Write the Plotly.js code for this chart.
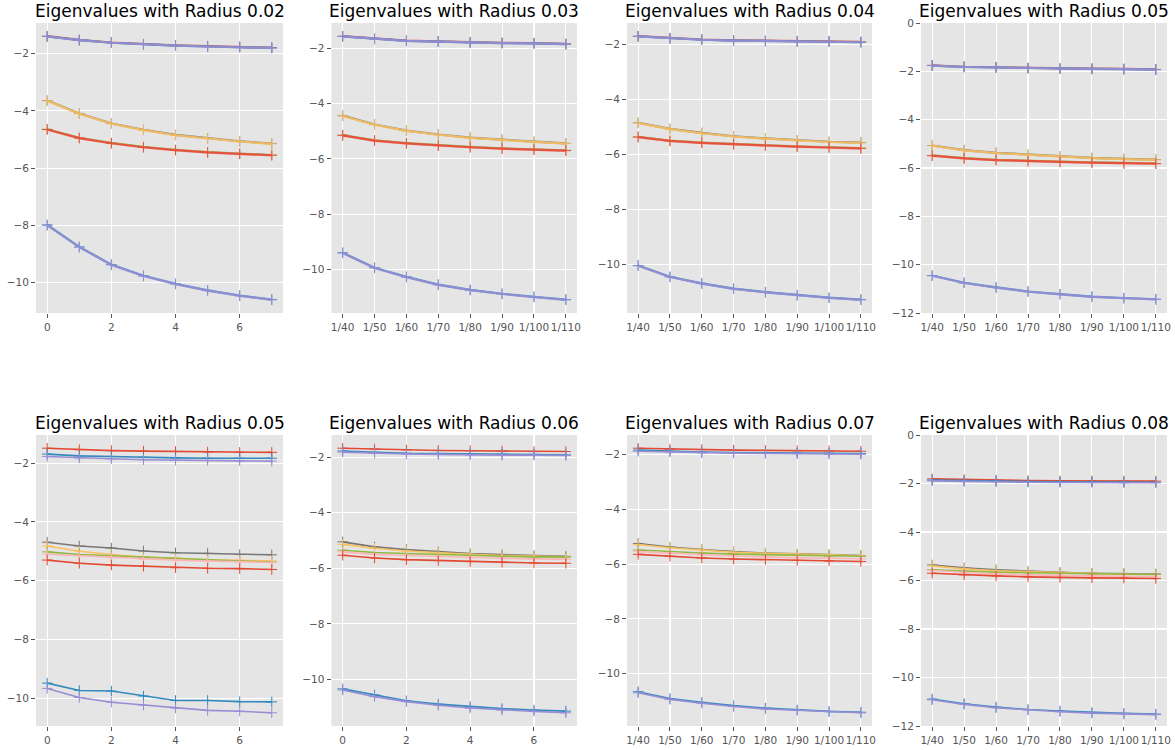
<!DOCTYPE html>
<html>
<head>
<meta charset="utf-8">
<script src="https://cdn.plot.ly/plotly-3.0.1.min.js"></script>
<style>html,body{margin:0;padding:0;background:#fff;}#chart{width:1175px;height:750px;}</style>
</head>
<body>
<div id="chart"></div>
<script>
// ---------- DATA ----------
const xSteps = [0, 1, 2, 3, 4, 5, 6, 7];
const numTickVals = [0, 2, 4, 6];
const numTickText = ["0", "2", "4", "6"];
const fracTickText = ["1/40", "1/50", "1/60", "1/70", "1/80", "1/90", "1/100", "1/110"];
const titles = [
  "Eigenvalues with Radius 0.02", "Eigenvalues with Radius 0.03",
  "Eigenvalues with Radius 0.04", "Eigenvalues with Radius 0.05",
  "Eigenvalues with Radius 0.05", "Eigenvalues with Radius 0.06",
  "Eigenvalues with Radius 0.07", "Eigenvalues with Radius 0.08"
];
const colors = ["#E24A33", "#348ABD", "#988ED5", "#777777", "#FBC15E", "#8EBA42", "#FFB5B8"];

// ten eigenvalue series per panel
const eigR02 = [
  [-1.39,-1.52,-1.61,-1.67,-1.71,-1.74,-1.76,-1.79],
  [-1.40,-1.53,-1.62,-1.68,-1.72,-1.75,-1.77,-1.80],
  [-1.40,-1.53,-1.62,-1.68,-1.72,-1.75,-1.77,-1.80],
  [-3.64,-4.09,-4.44,-4.66,-4.84,-4.96,-5.06,-5.14],
  [-3.65,-4.10,-4.45,-4.67,-4.85,-4.97,-5.07,-5.15],
  [-4.64,-4.94,-5.12,-5.26,-5.36,-5.44,-5.49,-5.54],
  [-4.66,-4.96,-5.14,-5.28,-5.38,-5.46,-5.51,-5.56],
  [-4.65,-4.95,-5.13,-5.27,-5.37,-5.45,-5.50,-5.55],
  [-7.98,-8.75,-9.37,-9.76,-10.04,-10.27,-10.45,-10.59],
  [-8.00,-8.76,-9.38,-9.77,-10.05,-10.28,-10.46,-10.60]
];
const eigR03 = [
  [-1.57,-1.66,-1.73,-1.76,-1.79,-1.81,-1.82,-1.85],
  [-1.58,-1.67,-1.74,-1.77,-1.80,-1.82,-1.83,-1.86],
  [-1.58,-1.67,-1.74,-1.77,-1.80,-1.82,-1.83,-1.86],
  [-4.44,-4.76,-4.98,-5.12,-5.23,-5.31,-5.38,-5.44],
  [-4.45,-4.77,-4.99,-5.13,-5.24,-5.32,-5.39,-5.45],
  [-5.14,-5.33,-5.43,-5.51,-5.57,-5.62,-5.66,-5.69],
  [-5.16,-5.35,-5.45,-5.53,-5.59,-5.64,-5.68,-5.71],
  [-5.15,-5.34,-5.44,-5.52,-5.58,-5.63,-5.67,-5.70],
  [-9.39,-9.93,-10.26,-10.54,-10.73,-10.87,-10.98,-11.08],
  [-9.40,-9.94,-10.27,-10.55,-10.74,-10.88,-10.99,-11.09]
];
const eigR04 = [
  [-1.70,-1.77,-1.82,-1.85,-1.87,-1.88,-1.89,-1.91],
  [-1.71,-1.78,-1.83,-1.86,-1.88,-1.89,-1.90,-1.92],
  [-1.71,-1.78,-1.83,-1.86,-1.88,-1.89,-1.90,-1.92],
  [-4.85,-5.07,-5.22,-5.34,-5.42,-5.49,-5.54,-5.57],
  [-4.86,-5.08,-5.23,-5.35,-5.43,-5.50,-5.55,-5.58],
  [-5.36,-5.50,-5.57,-5.62,-5.67,-5.71,-5.74,-5.77],
  [-5.38,-5.52,-5.59,-5.64,-5.69,-5.73,-5.76,-5.79],
  [-5.37,-5.51,-5.58,-5.63,-5.68,-5.72,-5.75,-5.78],
  [-10.04,-10.45,-10.69,-10.88,-11.01,-11.12,-11.21,-11.28],
  [-10.05,-10.46,-10.70,-10.89,-11.02,-11.13,-11.22,-11.29]
];
const eigR05a = [
  [-1.75,-1.81,-1.83,-1.86,-1.88,-1.89,-1.90,-1.92],
  [-1.76,-1.82,-1.84,-1.87,-1.89,-1.90,-1.91,-1.93],
  [-1.76,-1.82,-1.84,-1.87,-1.89,-1.90,-1.91,-1.93],
  [-5.07,-5.26,-5.37,-5.45,-5.52,-5.58,-5.62,-5.65],
  [-5.08,-5.27,-5.38,-5.46,-5.53,-5.59,-5.63,-5.66],
  [-5.48,-5.59,-5.66,-5.71,-5.74,-5.77,-5.80,-5.81],
  [-5.50,-5.61,-5.68,-5.73,-5.76,-5.79,-5.82,-5.83],
  [-5.49,-5.60,-5.67,-5.72,-5.75,-5.78,-5.81,-5.82],
  [-10.45,-10.75,-10.94,-11.11,-11.22,-11.32,-11.38,-11.43],
  [-10.46,-10.76,-10.95,-11.12,-11.23,-11.33,-11.39,-11.44]
];
const eigR05b = [
  [-1.49,-1.54,-1.57,-1.59,-1.60,-1.62,-1.63,-1.63],
  [-1.69,-1.75,-1.77,-1.80,-1.82,-1.83,-1.83,-1.83],
  [-1.77,-1.82,-1.85,-1.88,-1.90,-1.91,-1.92,-1.93],
  [-4.69,-4.82,-4.89,-4.99,-5.05,-5.07,-5.11,-5.12],
  [-4.82,-5.00,-5.11,-5.20,-5.24,-5.29,-5.31,-5.33],
  [-5.02,-5.11,-5.15,-5.20,-5.24,-5.30,-5.33,-5.37],
  [-5.10,-5.15,-5.22,-5.27,-5.30,-5.33,-5.36,-5.38],
  [-5.30,-5.41,-5.47,-5.51,-5.56,-5.58,-5.59,-5.62],
  [-9.49,-9.74,-9.76,-9.93,-10.08,-10.08,-10.12,-10.13],
  [-9.67,-9.98,-10.14,-10.24,-10.34,-10.42,-10.45,-10.50]
];
const eigR06 = [
  [-1.68,-1.71,-1.74,-1.76,-1.77,-1.78,-1.80,-1.80],
  [-1.78,-1.83,-1.86,-1.87,-1.88,-1.89,-1.90,-1.92],
  [-1.82,-1.86,-1.89,-1.90,-1.92,-1.93,-1.93,-1.94],
  [-5.05,-5.23,-5.33,-5.41,-5.47,-5.51,-5.54,-5.57],
  [-5.14,-5.28,-5.38,-5.45,-5.50,-5.54,-5.57,-5.59],
  [-5.35,-5.43,-5.47,-5.51,-5.54,-5.57,-5.59,-5.60],
  [-5.41,-5.50,-5.54,-5.58,-5.62,-5.64,-5.66,-5.68],
  [-5.53,-5.63,-5.69,-5.72,-5.76,-5.78,-5.81,-5.82],
  [-10.34,-10.56,-10.77,-10.89,-10.98,-11.05,-11.10,-11.14],
  [-10.38,-10.62,-10.80,-10.93,-11.03,-11.10,-11.15,-11.20]
];
const eigR07 = [
  [-1.76,-1.79,-1.81,-1.83,-1.84,-1.85,-1.85,-1.87],
  [-1.83,-1.87,-1.90,-1.92,-1.93,-1.94,-1.94,-1.95],
  [-1.87,-1.90,-1.93,-1.94,-1.95,-1.96,-1.98,-1.98],
  [-5.24,-5.37,-5.46,-5.54,-5.59,-5.63,-5.65,-5.68],
  [-5.28,-5.40,-5.48,-5.56,-5.60,-5.64,-5.66,-5.69],
  [-5.48,-5.54,-5.59,-5.63,-5.65,-5.68,-5.70,-5.71],
  [-5.54,-5.60,-5.66,-5.70,-5.74,-5.76,-5.79,-5.80],
  [-5.64,-5.71,-5.77,-5.81,-5.83,-5.86,-5.88,-5.90],
  [-10.66,-10.91,-11.05,-11.17,-11.26,-11.33,-11.38,-11.41],
  [-10.70,-10.94,-11.08,-11.20,-11.29,-11.34,-11.39,-11.43]
];
const eigR08 = [
  [-1.81,-1.84,-1.86,-1.88,-1.89,-1.89,-1.90,-1.90],
  [-1.86,-1.89,-1.90,-1.92,-1.93,-1.93,-1.95,-1.95],
  [-1.89,-1.92,-1.93,-1.95,-1.96,-1.96,-1.97,-1.97],
  [-5.36,-5.48,-5.56,-5.62,-5.66,-5.70,-5.71,-5.73],
  [-5.40,-5.52,-5.60,-5.64,-5.68,-5.71,-5.74,-5.75],
  [-5.56,-5.62,-5.66,-5.68,-5.71,-5.73,-5.74,-5.75],
  [-5.59,-5.67,-5.73,-5.77,-5.79,-5.82,-5.84,-5.85],
  [-5.70,-5.77,-5.81,-5.85,-5.88,-5.89,-5.90,-5.92],
  [-10.89,-11.08,-11.22,-11.32,-11.38,-11.44,-11.48,-11.51],
  [-10.92,-11.11,-11.25,-11.34,-11.41,-11.47,-11.51,-11.53]
];

const panelData = [eigR02, eigR03, eigR04, eigR05a, eigR05b, eigR06, eigR07, eigR08];
const panelFracTicks = [false, true, true, true, false, false, true, true];
const panelFixedY = [null, null, null, [-12, 0], null, null, null, [-12, 0]];

// ---------- LAYOUT ----------
const W = 1175, H = 750;
const colPx = [[36, 283], [331.5, 577], [627, 872], [921, 1167]];
const rowPx = [[23, 313], [435, 726]];

const traces = [];
const layout = {
  width: W, height: H,
  margin: {l: 0, r: 0, t: 0, b: 0},
  paper_bgcolor: "#ffffff",
  plot_bgcolor: "#E5E5E5",
  showlegend: false,
  hovermode: false,
  font: {family: "DejaVu Sans", color: "#555555", size: 10.5},
  annotations: []
};

panelData.forEach((series, p) => {
  const row = Math.floor(p / 4), col = p % 4;
  const idx = p + 1;
  const xa = "x" + (idx === 1 ? "" : idx), ya = "y" + (idx === 1 ? "" : idx);
  const xk = "xaxis" + (idx === 1 ? "" : idx), yk = "yaxis" + (idx === 1 ? "" : idx);
  const lw = row === 0 ? 2.2 : 1.6;
  series.forEach((ys, s) => {
    const c = colors[s % colors.length];
    traces.push({
      type: "scatter", mode: "lines+markers",
      x: xSteps, y: ys, xaxis: xa, yaxis: ya,
      line: {color: c, width: lw},
      opacity: row === 0 ? 0.9 : 1,
      marker: {symbol: "cross-thin", size: 7.5, color: c, line: {color: c, width: 1}}
    });
  });
  let yr = panelFixedY[p];
  if (!yr) {
    let mn = Infinity, mx = -Infinity;
    series.forEach(ys => ys.forEach(v => { mn = Math.min(mn, v); mx = Math.max(mx, v); }));
    const pad = (mx - mn) * 0.05;
    yr = [mn - pad, mx + pad];
  }
  const xd = [colPx[col][0] / W, colPx[col][1] / W];
  const yd = [(H - rowPx[row][1]) / H, (H - rowPx[row][0]) / H];
  layout[xk] = {
    domain: xd, anchor: ya, range: [-0.35, 7.35],
    tickmode: "array",
    tickvals: panelFracTicks[p] ? xSteps : numTickVals,
    ticktext: panelFracTicks[p] ? fracTickText : numTickText,
    tickangle: 0,
    showgrid: true, gridcolor: "#ffffff", gridwidth: 1.1,
    zeroline: false, showline: false,
    ticks: "outside", ticklen: 4, tickcolor: "#555555", tickwidth: 1,
    tickfont: {family: "DejaVu Sans", size: 10.5, color: "#555555"},
    fixedrange: true
  };
  layout[yk] = {
    domain: yd, anchor: xa, range: yr,
    tickmode: "linear", dtick: 2, tick0: 0,
    showgrid: true, gridcolor: "#ffffff", gridwidth: 1.1,
    zeroline: false, showline: false,
    ticks: "outside", ticklen: 4, tickcolor: "#555555", tickwidth: 1,
    tickfont: {family: "DejaVu Sans", size: 10.5, color: "#555555"},
    fixedrange: true
  };
  layout.annotations.push({
    xref: "paper", yref: "paper",
    x: (xd[0] + xd[1]) / 2, y: yd[1],
    xanchor: "center", yanchor: "bottom", yshift: 0,
    showarrow: false,
    text: titles[p],
    font: {family: "DejaVu Sans", size: 17, color: "#000000"}
  });
});

Plotly.newPlot("chart", traces, layout, {staticPlot: true, displayModeBar: false});
</script>
</body>
</html>
